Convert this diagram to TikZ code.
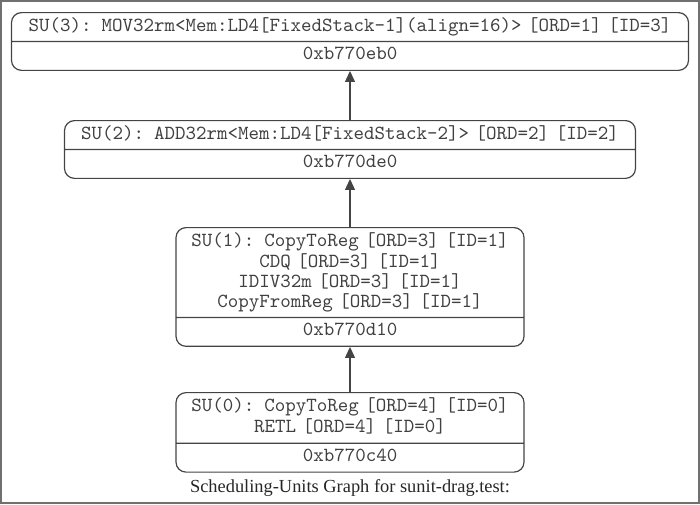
\documentclass[tikz,border=0pt]{standalone}
\usepackage{fontspec}
\setmainfont{Liberation Serif}
\usepackage{xcolor}
\usepackage{tikz}
\usetikzlibrary{shapes.multipart,arrows.meta}
\definecolor{sulinecol}{HTML}{444444}
\definecolor{sutextcol}{HTML}{404040}
\definecolor{framecol}{HTML}{707070}
\tikzset{
  % --- scheduling units: label on top, address below ------------------------
  sunit/.style={rectangle split,rectangle split parts=2,draw=sulinecol,
                line width=0.6pt,rounded corners=5pt,inner xsep=4pt,
                inner ysep=2pt,align=center,text=sutextcol,
                font=\fontsize{10}{9.8}\selectfont\ttfamily,text width=#1},
  % --- dependences -----------------------------------------------------------
  dep/.style={-{Triangle[length=5.5pt,width=5pt]},sulinecol,line width=0.6pt},
  graphcap/.style={font=\fontsize{9.2}{11}\selectfont,text=black!85,
                   inner sep=0pt},
}

\begin{document}
\begin{tikzpicture}[x=0.5pt, y=-0.5pt]
  \useasboundingbox (0,0) rectangle (700,504);
  \draw[framecol,line width=0.75pt] (1,1) rectangle (699,503);
  % --- the four units, top to bottom --------------------------------------
  \node[sunit=330.5pt,anchor=north] (su3) at (350,12)
    {\strut SU(3): MOV32rm<Mem:LD4[FixedStack-1](align=16)> [ORD=1] [ID=3]
     \nodepart{two}\strut 0xb770eb0};
  \node[sunit=277.5pt,anchor=north] (su2) at (350,120)
    {\strut SU(2): ADD32rm<Mem:LD4[FixedStack-2]> [ORD=2] [ID=2]
     \nodepart{two}\strut 0xb770de0};
  \node[sunit=166pt,anchor=north] (su1) at (350,227)
    {\strut SU(1): CopyToReg [ORD=3] [ID=1]\\
     CDQ [ORD=3] [ID=1]\\
     IDIV32m [ORD=3] [ID=1]\\
     CopyFromReg [ORD=3] [ID=1]\strut
     \nodepart{two}\strut 0xb770d10};
  \node[sunit=166pt,anchor=north] (su0) at (350,392)
    {\strut SU(0): CopyToReg [ORD=4] [ID=0]\\
     RETL [ORD=4] [ID=0]\strut
     \nodepart{two}\strut 0xb770c40};

  \node[graphcap] (cap) at (350,488) {Scheduling-Units Graph for sunit-drag.test:};

  % each unit depends on the one above it
  \draw[dep] (su2.north) -- (su3.south);
  \draw[dep] (su1.north) -- (su2.south);
  \draw[dep] (su0.north) -- (su1.south);
\end{tikzpicture}
\end{document}
